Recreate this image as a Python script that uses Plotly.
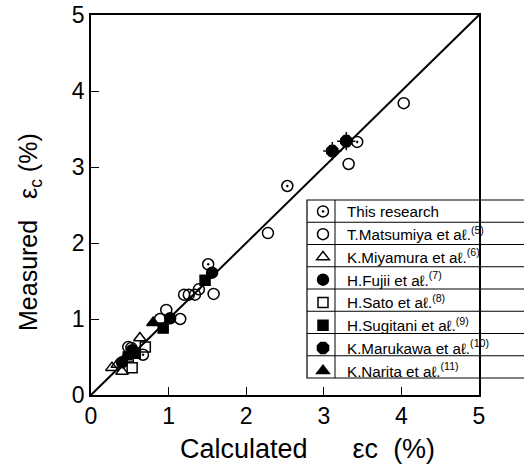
import plotly.graph_objects as go

# ---- data (calculated, measured) ----
this_x = [3.43, 2.53, 1.51, 1.39, 0.67, 0.52]
this_y = [3.33, 2.75, 1.72, 1.39, 0.53, 0.62]

mats_x = [4.03, 3.32, 2.28, 1.58, 1.20, 1.26, 1.34, 0.97, 0.89, 1.15, 0.48]
mats_y = [3.84, 3.04, 2.13, 1.33, 1.32, 1.32, 1.32, 1.12, 1.00, 1.00, 0.63]

miya_x = [0.63, 0.27, 0.40, 0.34]
miya_y = [0.75, 0.36, 0.31, 0.40]

fuji_x = [1.56, 1.02, 0.53, 0.40]
fuji_y = [1.61, 1.01, 0.59, 0.43]

sato_x = [0.70, 0.53, 0.48]
sato_y = [0.63, 0.36, 0.50]

sugi_x = [1.47, 0.93, 0.57]
sugi_y = [1.51, 0.88, 0.55]

maru_x = [3.11, 3.29]
maru_y = [3.21, 3.34]

nari_x = [0.80, 0.45]
nari_y = [0.95, 0.50]

tick_vals = [0, 1, 2, 3, 4, 5]
tick_text = ["0", "1", "2", "3", "4", "5"]

names = [
    "This research",
    "T.Matsumiya et aℓ.<sup>(5)</sup>",
    "K.Miyamura et aℓ.<sup>(6)</sup>",
    "H.Fujii et aℓ.<sup>(7)</sup>",
    "H.Sato et aℓ.<sup>(8)</sup>",
    "H.Sugitani et aℓ.<sup>(9)</sup>",
    "K.Marukawa et aℓ.<sup>(10)</sup>",
    "K.Narita et aℓ.<sup>(11)</sup>",
]

FONT = "Liberation Sans, Arial, sans-serif"
fig = go.Figure()

# diagonal 1:1 line
fig.add_shape(type="line", x0=0, y0=0, x1=5, y1=5, xref="x", yref="y",
              line=dict(color="black", width=2))

series = [
    (this_x, this_y, "circle-open-dot", 11),
    (mats_x, mats_y, "circle-open", 11),
    (miya_x, miya_y, "triangle-up-open", 11),
    (fuji_x, fuji_y, "circle", 11),
    (sato_x, sato_y, "square-open", 10),
    (sugi_x, sugi_y, "square", 10),
    (maru_x, maru_y, "octagon", 12),
    (nari_x, nari_y, "triangle-up", 11),
]
for (xs, ys, sym, sz), nm in zip(series, names):
    fig.add_trace(go.Scatter(
        x=xs, y=ys, mode="markers", name=nm,
        marker=dict(symbol=sym, size=sz, color="black",
                    line=dict(color="black", width=1.5)),
    ))
# small spikes on Marukawa symbols
fig.add_trace(go.Scatter(
    x=maru_x, y=maru_y, mode="markers", showlegend=False,
    marker=dict(symbol="cross-thin-open", size=13, color="black",
                line=dict(color="black", width=1.5)),
))

# legend box with grid lines (paper coords)
L, R, T, B = 91, 479, 15, 395
def px(x):
    return (x - L) / (R - L)
def py(y):
    return (B - y) / (B - T)

lx0, lx1, ly0, ly1 = 307, 540, 200, 378
fig.add_shape(type="rect", xref="paper", yref="paper",
              x0=px(lx0), x1=px(lx1), y0=py(ly1), y1=py(ly0),
              line=dict(color="black", width=1.2), fillcolor="white", layer="below")
rowh = (ly1 - ly0) / 8
for i in range(1, 8):
    yy = ly0 + i * rowh
    fig.add_shape(type="line", xref="paper", yref="paper",
                  x0=px(lx0), x1=px(lx1), y0=py(yy), y1=py(yy),
                  line=dict(color="black", width=1))
fig.add_shape(type="line", xref="paper", yref="paper",
              x0=px(335), x1=px(335), y0=py(ly0), y1=py(ly1),
              line=dict(color="black", width=1))

axis_common = dict(
    range=[0, 5], tickvals=tick_vals, ticktext=tick_text,
    ticks="inside", ticklen=8, tickwidth=1, tickcolor="black",
    showline=True, linecolor="black", linewidth=1.5, mirror=True,
    showgrid=False, zeroline=False, automargin=False,
    tickfont=dict(family=FONT, size=23, color="black"),
)
fig.update_xaxes(**axis_common)
fig.update_yaxes(**axis_common)

fig.add_annotation(text="Calculated      εc  (%)", xref="paper", yref="paper",
                   x=px(307), y=py(449), xanchor="center", yanchor="middle",
                   showarrow=False,
                   font=dict(family=FONT, size=27, color="black"))
fig.add_annotation(text="Measured   ε<sub>c</sub> (%)", xref="paper", yref="paper",
                   x=px(30), y=py(232), xanchor="center", yanchor="middle",
                   showarrow=False, textangle=-90,
                   font=dict(family=FONT, size=25, color="black"))

fig.update_layout(
    width=524, height=475,
    margin=dict(l=L, r=524 - R, t=T, b=475 - B),
    paper_bgcolor="white", plot_bgcolor="white",
    showlegend=True,
    legend=dict(
        x=px(299), y=py(195), xanchor="left", yanchor="top",
        bgcolor="rgba(0,0,0,0)", borderwidth=0,
        font=dict(family=FONT, size=15.2, color="black"),
        itemwidth=38, tracegroupgap=0,
    ),
)

fig.write_html("out.html", config={"displayModeBar": False},
               post_script="document.body.style.margin='0px';")
